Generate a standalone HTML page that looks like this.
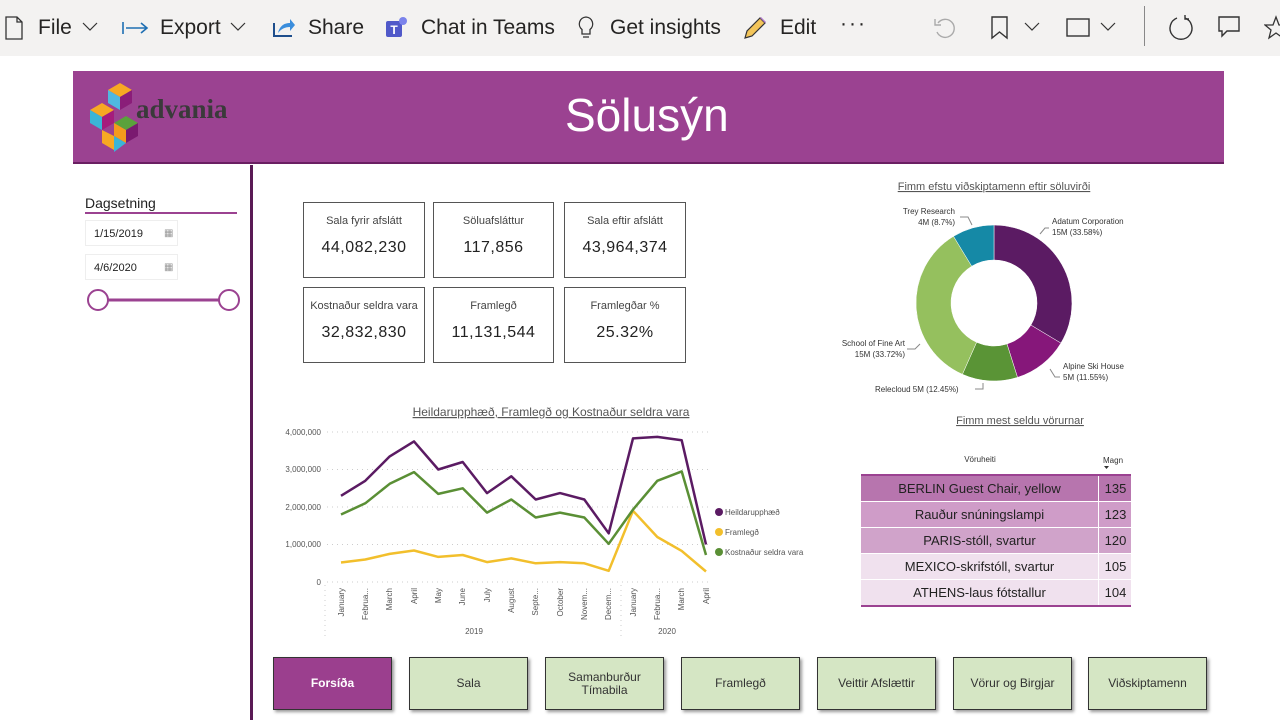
<!DOCTYPE html>
<html><head><meta charset="utf-8"><style>
body{margin:0;width:1280px;height:720px;background:#fff;font-family:"Liberation Sans","DejaVu Sans",sans-serif;overflow:hidden;position:relative}
.abs{position:absolute}
.tb{position:absolute;top:0;left:0;width:1280px;height:56px;background:#f3f2f1}
.tb span{position:absolute;top:16px;font-size:21px;color:#252423}
.card{position:absolute;border:1px solid #555;background:#fff;text-align:center}
.card .t{font-size:11px;color:#444;margin-top:12px}
.card .v{font-size:16px;color:#222;margin-top:12px;letter-spacing:0.5px}
.btn{position:absolute;top:657px;width:117px;height:51px;border:1px solid #333;background:#d5e6c4;box-shadow:2px 2px 3px #999;display:flex;align-items:center;justify-content:center;text-align:center;font-size:12px;color:#333;line-height:13px}
.row{position:absolute;left:861px;width:270px;height:25px;font-size:13px;color:#222}
.row .a{position:absolute;left:0;width:237px;text-align:center;top:5px}
.row .b{position:absolute;left:237px;width:33px;text-align:center;border-left:1px solid #fff;height:25px;top:0;line-height:25px}
</style></head><body>
<div class="tb">
<svg class="abs" style="left:4px;top:16px" width="20" height="24"><path d="M2 1h11l5 5v17H2z M13 1v5h5" fill="none" stroke="#333" stroke-width="1.3"/></svg>
<span style="left:38px">File</span>
<svg class="abs" style="left:82px;top:22px" width="16" height="10"><path d="M1 1l7 7 7-7" fill="none" stroke="#333" stroke-width="1.2"/></svg>
<svg class="abs" style="left:122px;top:21px" width="28" height="14"><path d="M1 1v12M4 7h21M19 2l6 5-6 5" fill="none" stroke="#1e6fb3" stroke-width="1.6"/></svg>
<span style="left:160px">Export</span>
<svg class="abs" style="left:230px;top:22px" width="16" height="10"><path d="M1 1l7 7 7-7" fill="none" stroke="#333" stroke-width="1.2"/></svg>
<svg class="abs" style="left:272px;top:15px" width="24" height="24"><path d="M2 8v13h18" fill="none" stroke="#1e4e8c" stroke-width="2"/><path d="M6 18c2-8 7-10 12-10V4l5 6-5 6v-4c-5 0-9 2-12 6z" fill="#3a8ddc"/></svg>
<span style="left:308px">Share</span>
<svg class="abs" style="left:384px;top:15px" width="26" height="26"><rect x="2" y="6" width="16" height="16" rx="2" fill="#5059c9"/><circle cx="19" cy="6" r="4" fill="#7b83eb"/><text x="10" y="19" font-size="12" fill="#fff" text-anchor="middle" font-weight="bold">T</text></svg>
<span style="left:421px">Chat in Teams</span>
<svg class="abs" style="left:576px;top:15px" width="20" height="26"><path d="M10 2a7 7 0 0 0-4 12.5V19h8v-4.5A7 7 0 0 0 10 2zM7 22h6" fill="none" stroke="#333" stroke-width="1.3"/></svg>
<span style="left:610px">Get insights</span>
<svg class="abs" style="left:742px;top:15px" width="26" height="26"><path d="M3 23l2-7 13-13 5 5-13 13z" fill="#f3c55a" stroke="#333" stroke-width="1.2"/><path d="M18 3l5 5 1-1-5-5z" fill="#b07ac8"/></svg>
<span style="left:780px">Edit</span>
<span style="left:840px;top:12px;letter-spacing:2px">···</span>
<svg class="abs" style="left:932px;top:15px" width="26" height="26"><path d="M6 8a9 9 0 1 1-1 9" fill="none" stroke="#aaa" stroke-width="1.4"/><path d="M3 4v6h6" fill="none" stroke="#aaa" stroke-width="1.4"/></svg>
<svg class="abs" style="left:990px;top:16px" width="20" height="24"><path d="M2 1h15v21l-7.5-6L2 22z" fill="none" stroke="#333" stroke-width="1.4"/></svg>
<svg class="abs" style="left:1024px;top:22px" width="16" height="10"><path d="M1 1l7 7 7-7" fill="none" stroke="#333" stroke-width="1.2"/></svg>
<svg class="abs" style="left:1066px;top:18px" width="26" height="20"><rect x="1" y="1" width="22" height="17" fill="none" stroke="#333" stroke-width="1.4"/></svg>
<svg class="abs" style="left:1100px;top:22px" width="16" height="10"><path d="M1 1l7 7 7-7" fill="none" stroke="#333" stroke-width="1.2"/></svg>
<div class="abs" style="left:1144px;top:6px;width:1px;height:40px;background:#888"></div>
<svg class="abs" style="left:1167px;top:14px" width="28" height="28"><path d="M10 4a11 11 0 1 0 8 0" fill="none" stroke="#333" stroke-width="1.4"/><path d="M18 1v4h4" fill="none" stroke="#333" stroke-width="1.4"/></svg>
<svg class="abs" style="left:1217px;top:15px" width="26" height="26"><path d="M2 2h20v14H10l-5 5v-5H2z" fill="none" stroke="#333" stroke-width="1.4"/></svg>
<svg class="abs" style="left:1264px;top:15px" width="20" height="26"><path d="M12 2l3 8h8l-6 5 2 8-7-5-7 5 2-8-6-5h8z" fill="none" stroke="#333" stroke-width="1.3"/></svg>
</div>

<!-- header -->
<div class="abs" style="left:73px;top:71px;width:1151px;height:91px;background:#9b4291;border-bottom:2px solid #6a1f62"></div>
<svg class="abs" style="left:88px;top:80px" width="55" height="76">
<polygon points="20,10 32,3 44,10 32,17" fill="#f7a823"/><polygon points="20,10 32,17 32,30 20,23" fill="#4fb8e0"/><polygon points="44,10 32,17 32,30 44,23" fill="#8a1d79"/>
<polygon points="2,30 14,23 26,30 14,37" fill="#f7a823"/><polygon points="2,30 14,37 14,50 2,43" fill="#3ab5d6"/><polygon points="26,30 14,37 14,50 26,43" fill="#a51c7c"/>
<polygon points="26,43 38,36 50,43 38,50" fill="#5aa23c"/><polygon points="26,43 38,50 38,63 26,56" fill="#f59a1d"/><polygon points="50,43 38,50 38,63 50,56" fill="#7a1a70"/>
<polygon points="14,50 26,56 26,70 14,63" fill="#f7a823"/><polygon points="26,56 38,63 26,72" fill="#3ab5d6"/>
</svg>
<div class="abs" style="left:136px;top:94px;font-family:'Liberation Serif',serif;font-weight:bold;font-size:27px;color:#3a3a3a">advania</div>
<div class="abs" style="left:565px;top:88px;font-size:46px;color:#fff">Sölusýn</div>

<div class="abs" style="left:250px;top:165px;width:3px;height:555px;background:#5a1a55"></div>

<!-- slicer -->
<div class="abs" style="left:85px;top:195px;font-size:14px;color:#222">Dagsetning</div>
<div class="abs" style="left:85px;top:212px;width:152px;height:2px;background:#9b4291"></div>
<div class="abs" style="left:85px;top:220px;width:93px;height:26px;border:1px solid #eee;font-size:11px;line-height:26px;padding-left:8px;box-sizing:border-box;color:#222">1/15/2019<span style="position:absolute;left:78px;color:#999;font-size:10px">▦</span></div>
<div class="abs" style="left:85px;top:254px;width:93px;height:26px;border:1px solid #eee;font-size:11px;line-height:26px;padding-left:8px;box-sizing:border-box;color:#222">4/6/2020<span style="position:absolute;left:78px;color:#999;font-size:10px">▦</span></div>
<svg class="abs" style="left:85px;top:287px" width="160" height="26"><line x1="14" y1="13" x2="143" y2="13" stroke="#9b4291" stroke-width="3"/><circle cx="13" cy="13" r="10" fill="#fff" stroke="#9b4291" stroke-width="2"/><circle cx="144" cy="13" r="10" fill="#fff" stroke="#9b4291" stroke-width="2"/></svg>

<!-- cards -->
<div class="card" style="left:303px;top:202px;width:120px;height:74px"><div class="t">Sala fyrir afslátt</div><div class="v">44,082,230</div></div>
<div class="card" style="left:433px;top:202px;width:119px;height:74px"><div class="t">Söluafsláttur</div><div class="v">117,856</div></div>
<div class="card" style="left:564px;top:202px;width:120px;height:74px"><div class="t">Sala eftir afslátt</div><div class="v">43,964,374</div></div>
<div class="card" style="left:303px;top:287px;width:120px;height:74px"><div class="t">Kostnaður seldra vara</div><div class="v">32,832,830</div></div>
<div class="card" style="left:433px;top:287px;width:119px;height:74px"><div class="t">Framlegð</div><div class="v">11,131,544</div></div>
<div class="card" style="left:564px;top:287px;width:120px;height:74px"><div class="t">Framlegðar %</div><div class="v">25.32%</div></div>

<!-- line chart -->
<svg class="abs" style="left:0;top:0" width="1280" height="720" font-family="Liberation Sans, sans-serif">
<text x="551" y="416" font-size="12" fill="#555" text-anchor="middle" text-decoration="underline">Heildarupphæð, Framlegð og Kostnaður seldra vara</text>
<g stroke="#ccc" stroke-dasharray="1,4">
<line x1="327" y1="432" x2="712" y2="432"/><line x1="327" y1="469.5" x2="712" y2="469.5"/><line x1="327" y1="507" x2="712" y2="507"/><line x1="327" y1="544.5" x2="712" y2="544.5"/><line x1="327" y1="582" x2="712" y2="582"/>
<line x1="325" y1="585" x2="325" y2="636"/><line x1="621" y1="585" x2="621" y2="636"/>
</g>
<g font-size="8" fill="#555" text-anchor="end">
<text x="321" y="435">4,000,000</text><text x="321" y="472">3,000,000</text><text x="321" y="510">2,000,000</text><text x="321" y="547">1,000,000</text><text x="321" y="585">0</text>
</g>
<g font-size="8" fill="#555" text-anchor="end">
<text transform="translate(344,588) rotate(-90)">January</text>
<text transform="translate(368,588) rotate(-90)">Februa...</text>
<text transform="translate(392,588) rotate(-90)">March</text>
<text transform="translate(417,588) rotate(-90)">April</text>
<text transform="translate(441,588) rotate(-90)">May</text>
<text transform="translate(465,588) rotate(-90)">June</text>
<text transform="translate(490,588) rotate(-90)">July</text>
<text transform="translate(514,588) rotate(-90)">August</text>
<text transform="translate(538,588) rotate(-90)">Septe...</text>
<text transform="translate(563,588) rotate(-90)">October</text>
<text transform="translate(587,588) rotate(-90)">Novem...</text>
<text transform="translate(611,588) rotate(-90)">Decem...</text>
<text transform="translate(636,588) rotate(-90)">January</text>
<text transform="translate(660,588) rotate(-90)">Februa...</text>
<text transform="translate(684,588) rotate(-90)">March</text>
<text transform="translate(709,588) rotate(-90)">April</text>
</g>
<text x="474" y="634" font-size="8" fill="#555" text-anchor="middle">2019</text>
<text x="667" y="634" font-size="8" fill="#555" text-anchor="middle">2020</text>
<g fill="none" stroke-width="2.5" stroke-linejoin="round">
<polyline stroke="#f2bf2c" points="341,562.5 365.3,559.5 389.7,553.9 414,550.5 438.3,556.9 462.7,555 487,562.1 511.3,558.4 535.7,563.3 560,562.1 584.3,563.3 608.7,570.8 633,510.8 657.3,537 681.7,550.9 706,571.5"/>
<polyline stroke="#5a8f35" points="341,514.5 365.3,503.3 389.7,483.8 414,472.1 438.3,493.9 462.7,488.3 487,512.6 511.3,499.5 535.7,517.5 560,512.6 584.3,517.5 608.7,543.8 633,509.6 657.3,480.8 681.7,471.4 706,555"/>
<polyline stroke="#5b1b63" points="341,495.8 365.3,480.8 389.7,456.4 414,441.4 438.3,469.5 462.7,462 487,493.1 511.3,476.3 535.7,499.5 560,493.1 584.3,499.5 608.7,533.3 633,438.4 657.3,436.9 681.7,440.3 706,544.5"/>
</g>
<circle cx="719" cy="512" r="4" fill="#5b1b63"/><text x="725" y="515" font-size="8" fill="#555">Heildarupphæð</text>
<circle cx="719" cy="532" r="4" fill="#f2bf2c"/><text x="725" y="535" font-size="8" fill="#555">Framlegð</text>
<circle cx="719" cy="552" r="4" fill="#5a8f35"/><text x="725" y="555" font-size="8" fill="#555">Kostnaður seldra vara</text>

<!-- donut -->
<text x="994" y="190" font-size="11" fill="#555" text-anchor="middle" text-decoration="underline">Fimm efstu viðskiptamenn eftir söluvirði</text>
<g transform="translate(994,303)" stroke="#fff" stroke-width="0.5">
<path d="M0,-78 A78,78 0 0 1 66.9,40.1 L36.9,22.1 A43,43 0 0 0 0,-43Z" fill="#5b1b63"/>
<path d="M66.9,40.1 A78,78 0 0 1 23.5,74.4 L13,41 A43,43 0 0 0 36.9,22.1Z" fill="#86177a"/>
<path d="M23.5,74.4 A78,78 0 0 1 -31.6,71.3 L-17.4,39.3 A43,43 0 0 0 13,41Z" fill="#5a9436"/>
<path d="M-31.6,71.3 A78,78 0 0 1 -40.5,-66.7 L-22.3,-36.8 A43,43 0 0 0 -17.4,39.3Z" fill="#95c05e"/>
<path d="M-40.5,-66.7 A78,78 0 0 1 0,-78 L0,-43 A43,43 0 0 0 -22.3,-36.8Z" fill="#1589a6"/>
</g>
<g font-size="8" fill="#333">
<text x="955" y="214" text-anchor="end">Trey Research</text><text x="955" y="225" text-anchor="end">4M (8.7%)</text>
<text x="1052" y="224">Adatum Corporation</text><text x="1052" y="235">15M (33.58%)</text>
<text x="905" y="346" text-anchor="end">School of Fine Art</text><text x="905" y="357" text-anchor="end">15M (33.72%)</text>
<text x="1063" y="369">Alpine Ski House</text><text x="1063" y="380">5M (11.55%)</text>
<text x="875" y="392">Relecloud 5M (12.45%)</text>
</g>
<g stroke="#888" fill="none"><path d="M960,217h8l4,8"/><path d="M1049,228h-4l-5,6"/><path d="M907,349h8l5,-5"/><path d="M1060,377h-5l-5,-8"/><path d="M975,389h8v-6"/></g>

<text x="1020" y="424" font-size="11" fill="#555" text-anchor="middle" text-decoration="underline">Fimm mest seldu vörurnar</text>
<text x="980" y="462" font-size="8" fill="#333" text-anchor="middle">Vöruheiti</text>
<text x="1103" y="463" font-size="8" fill="#333">Magn</text>
<path d="M1104,466h5l-2.5,3z" fill="#333"/>
</svg>

<div class="abs" style="left:861px;top:474px;width:270px;height:2px;background:#9b4291"></div>
<div class="row" style="top:476px;background:#b775ae"><div class="a">BERLIN Guest Chair, yellow</div><div class="b">135</div></div>
<div class="row" style="top:502px;background:#cf9cc8"><div class="a">Rauður snúningslampi</div><div class="b">123</div></div>
<div class="row" style="top:528px;background:#d0a3ca"><div class="a">PARIS-stóll, svartur</div><div class="b">120</div></div>
<div class="row" style="top:554px;background:#f0e1ee"><div class="a">MEXICO-skrifstóll, svartur</div><div class="b">105</div></div>
<div class="row" style="top:580px;background:#f0e1ee"><div class="a">ATHENS-laus fótstallur</div><div class="b">104</div></div>
<div class="abs" style="left:861px;top:605px;width:270px;height:2px;background:#9b4291"></div>

<!-- buttons -->
<div class="btn" style="left:273px;background:#9b3f8e;color:#fff;font-weight:bold">Forsíða</div>
<div class="btn" style="left:409px">Sala</div>
<div class="btn" style="left:545px">Samanburður<br>Tímabila</div>
<div class="btn" style="left:681px">Framlegð</div>
<div class="btn" style="left:817px">Veittir Afslættir</div>
<div class="btn" style="left:953px">Vörur og Birgjar</div>
<div class="btn" style="left:1088px">Viðskiptamenn</div>
</body></html>
